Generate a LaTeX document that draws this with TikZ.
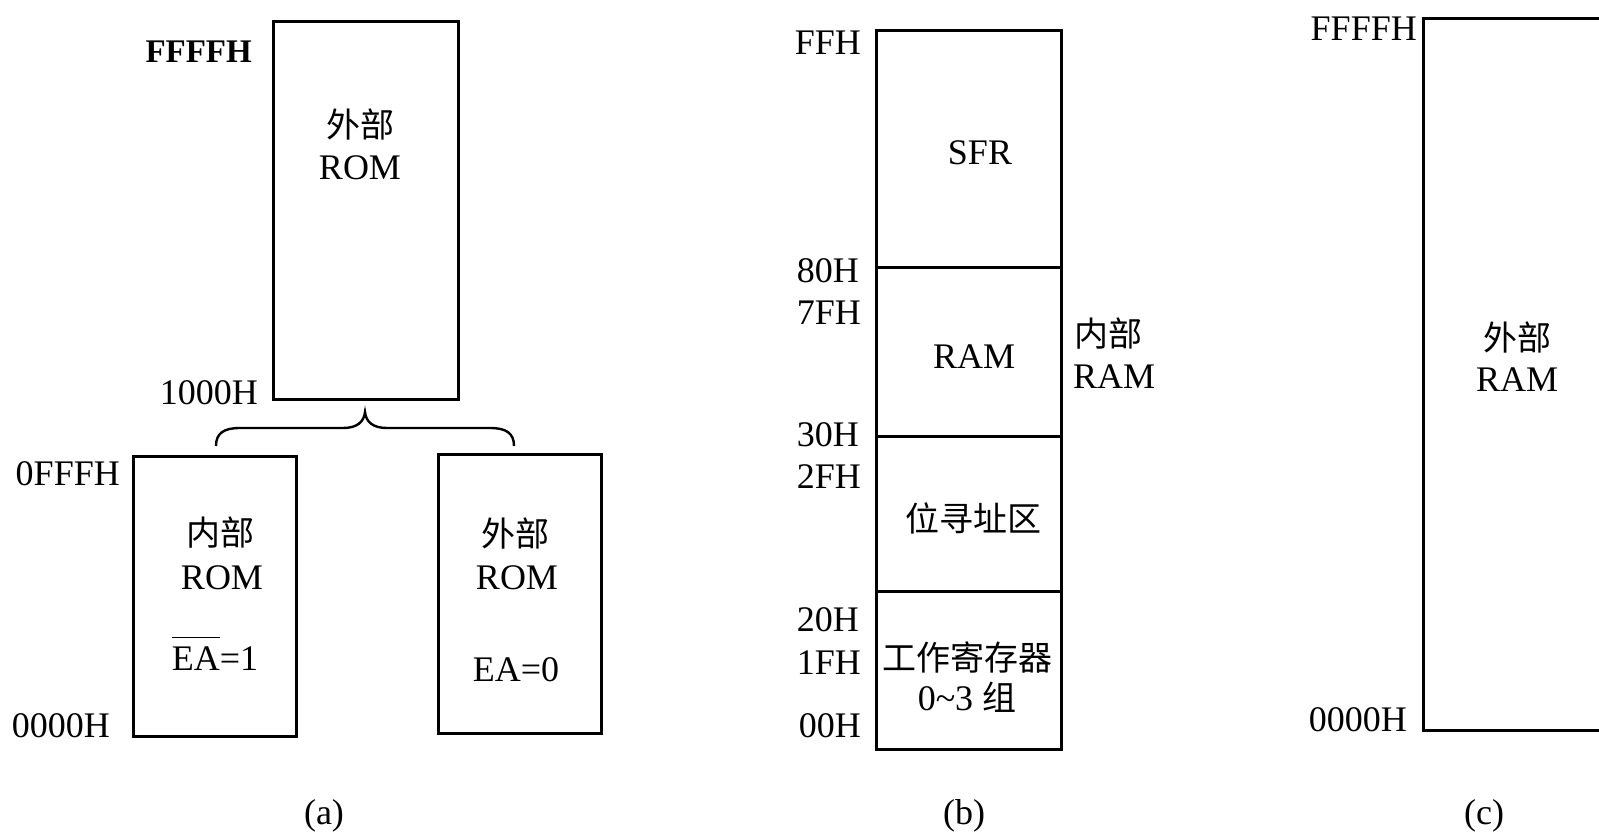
\documentclass[tikz,border=0pt]{standalone}
\usepackage{fontspec}
\setmainfont{Liberation Serif}
\newfontfamily\cjk{Noto Sans CJK SC}
\newcommand\latfont{\fontsize{36}{40}\selectfont}
\newcommand\boldlatfont{\fontsize{33}{38}\selectfont\bfseries}
\newcommand\zhfont{\cjk\fontsize{34}{40}\selectfont}
\newcommand\ovlbar[1]{\leavevmode\setbox0\hbox{#1}\rlap{\raisebox{\dimexpr\ht0+8pt\relax}{\rule{\wd0}{1.6pt}}}\box0}
\begin{document}
\begin{tikzpicture}[x=1pt,y=-1pt,
  mem/.style={draw=black, line width=3pt, inner sep=0pt},
  lab/.style={font=\latfont, inner sep=0pt},
  addr/.style={lab, anchor=east},
  zh/.style={font=\zhfont, inner sep=0pt},
  bracepath/.style={draw=black, line width=2.4pt}]
\useasboundingbox (0,0) rectangle (1599,835);
\fill[white] (0,0) rectangle (1599,835);
\clip (0,0) rectangle (1599,835);

% ---------------- (a) ----------------
\node[mem, minimum width=185pt, minimum height=378pt] (atop) at (365.5,210) {};
\node[mem, minimum width=163pt, minimum height=280pt] (aint) at (214.5,596) {};
\node[mem, minimum width=163pt, minimum height=279pt] (aext) at (519.5,593.5) {};

\node[zh]  (atopzh)  at (360,124) {外部};
\node[lab] (atoprom) at (360,168) {ROM};
\node[zh]  (aintzh)  at (220,533) {内部};
\node[lab] (aintrom) at (222,578) {ROM};
\node[lab, anchor=base] (aintea)  at (215,670) {\ovlbar{EA}=1};
\node[zh]  (aextzh)  at (515,533) {外部};
\node[lab] (aextrom) at (517,578) {ROM};
\node[lab] (aextea)  at (516,670) {EA=0};

\node[addr, font=\boldlatfont] (affff) at (252,52) {FFFFH};
\node[addr] (a1000) at (258,393) {1000H};
\node[addr] (a0fff) at (120,474) {0FFFH};
\node[addr] (a0000) at (110,726) {0000H};

\coordinate (bl) at (216,446);
\coordinate (br) at (514,446);
\coordinate (tip) at (365,412);
\draw[bracepath] (bl) .. controls (216,433) and (224,428) .. (240,428) -- (343,428)
  .. controls (357,428) and (364,422) .. (tip)
  .. controls (366,422) and (373,428) .. (387,428) -- (490,428)
  .. controls (506,428) and (514,433) .. (br);

\node[lab] (capa) at (324,816) {(a)};

% ---------------- (b) ----------------
\node[mem, minimum width=185pt, minimum height=237pt] (sfr) at (968.5,148.5) {};
\node[mem, minimum width=185pt, minimum height=169pt] (ram) at (968.5,351.5) {};
\node[mem, minimum width=185pt, minimum height=155pt] (bit) at (968.5,513.5) {};
\node[mem, minimum width=185pt, minimum height=158pt] (reg) at (968.5,670) {};

\node[lab] (sfrt) at (980,153) {SFR};
\node[lab] (ramt) at (974,357) {RAM};
\node[zh]  (bitt) at (973,518) {位寻址区};
\node[zh]  (regt) at (967,657) {工作寄存器};
\node[lab] (regn) at (967,697) {0\textasciitilde 3 {\zhfont 组}};

\node[zh, anchor=west]  (inzh)  at (1074,334) {内部};
\node[lab, anchor=west] (inram) at (1073,377) {RAM};

\node[addr] (bff) at (861,43)  {FFH};
\node[addr] (b80) at (859,271) {80H};
\node[addr] (b7f) at (861,313) {7FH};
\node[addr] (b30) at (859,435) {30H};
\node[addr] (b2f) at (861,477) {2FH};
\node[addr] (b20) at (859,620) {20H};
\node[addr] (b1f) at (861,663) {1FH};
\node[addr] (b00) at (861,726) {00H};

\node[lab] (capb) at (964,816) {(b)};

% ---------------- (c) ----------------
\node[mem, minimum width=188pt, minimum height=712pt] (cbox) at (1517,374) {};
\node[zh]  (czh)  at (1517,337) {外部};
\node[lab] (cram) at (1517,380) {RAM};
\node[addr] (cffff) at (1417,29)  {FFFFH};
\node[addr] (c0000) at (1407,720) {0000H};

\node[lab] (capc) at (1484,816) {(c)};
\end{tikzpicture}
\end{document}
